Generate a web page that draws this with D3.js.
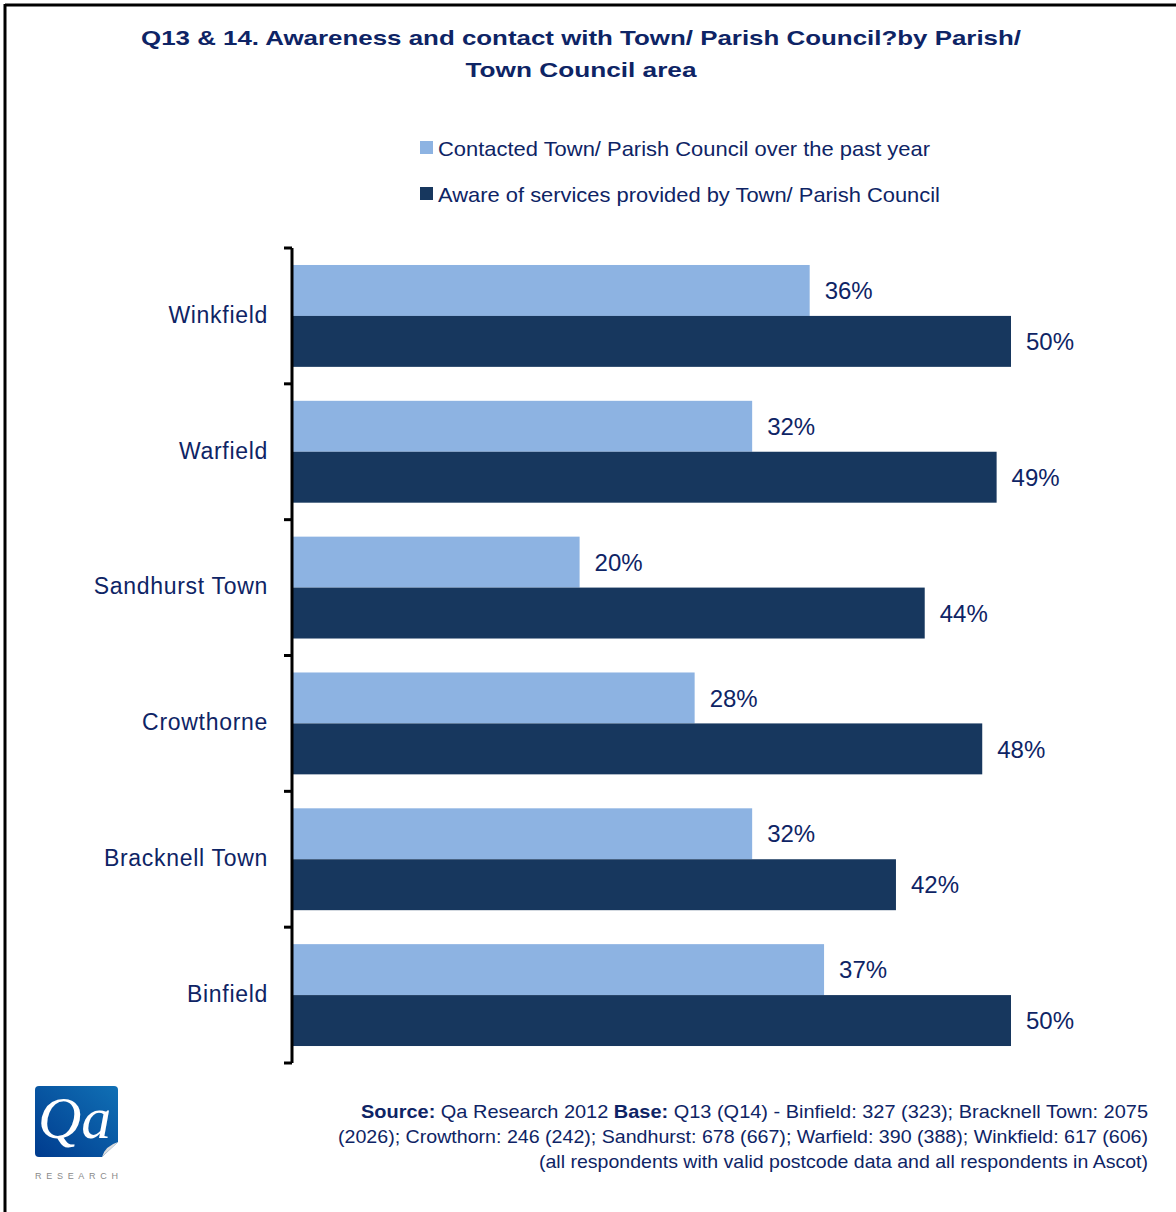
<!DOCTYPE html>
<html>
<head>
<meta charset="utf-8">
<script src="https://cdn.jsdelivr.net/npm/d3@7"></script>
<style>
  html, body { margin: 0; padding: 0; background: #fff; }
  svg { display: block; font-family: "Liberation Sans", Arial, sans-serif; }
</style>
</head>
<body>
<svg id="chart" width="1176" height="1212"></svg>
<script>
// Parish / town council areas, top to bottom
const categories = ["Winkfield", "Warfield", "Sandhurst Town", "Crowthorne", "Bracknell Town", "Binfield"];
// Percentages per series
const contacted = [36, 32, 20, 28, 32, 37];
const aware = [50, 49, 44, 48, 42, 50];
const seriesNames = [
  "Contacted Town/ Parish Council over the past year",
  "Aware of services provided by Town/ Parish Council"
];
const seriesColors = ["#8DB3E2", "#17375E"];
const titleLines = [
  "Q13 & 14. Awareness and contact with Town/ Parish Council?by Parish/",
  "Town Council area"
];
const sourceLines = [
  [["Source:", true], [" Qa Research 2012  ", false], ["Base:", true], ["  Q13 (Q14) - Binfield: 327 (323); Bracknell Town: 2075", false]],
  [["(2026); Crowthorn: 246 (242); Sandhurst: 678 (667); Warfield: 390 (388); Winkfield: 617 (606)", false]],
  [["(all respondents with valid postcode data and all respondents in Ascot)", false]]
];

const navy = "#0E2465";
const svg = d3.select("#chart");

// Frame lines (top and left)
svg.append("line").attr("x1", 5).attr("x2", 1176).attr("y1", 5).attr("y2", 5)
  .attr("stroke", "#000").attr("stroke-width", 3);
svg.append("line").attr("x1", 5).attr("x2", 5).attr("y1", 4).attr("y2", 1212)
  .attr("stroke", "#000").attr("stroke-width", 3);

// Title
const titleWidths = [880, 231];
svg.append("g").selectAll("text").data(titleLines).join("text")
  .attr("x", 581).attr("y", (d, i) => 45 + i * 32)
  .attr("text-anchor", "middle")
  .attr("font-size", 21).attr("font-weight", "bold").attr("fill", navy)
  .attr("textLength", (d, i) => titleWidths[i]).attr("lengthAdjust", "spacingAndGlyphs")
  .text(d => d);

// Legend
const legendWidths = [492, 502];
const legend = svg.append("g").selectAll("g").data(seriesNames).join("g")
  .attr("transform", (d, i) => `translate(420, ${148 + i * 46})`);
legend.append("rect").attr("x", 0).attr("y", -7).attr("width", 13).attr("height", 13)
  .attr("fill", (d, i) => seriesColors[i]);
legend.append("text").attr("x", 18).attr("y", 7.5)
  .attr("font-size", 21).attr("fill", navy)
  .attr("textLength", (d, i) => legendWidths[i]).attr("lengthAdjust", "spacingAndGlyphs")
  .text(d => d);

// Scales
const x = d3.scaleLinear().domain([0, 50]).range([292, 1011]);
const y = d3.scaleBand().domain(categories).range([248, 1063]).padding(0);
const bw = y.bandwidth();
const inner = d3.scaleBand().domain([0, 1]).range([bw * 0.125, bw * 0.875]).padding(0);

const rows = categories.map((c, i) => ({ cat: c, vals: [contacted[i], aware[i]] }));

const groups = svg.append("g").selectAll("g").data(rows).join("g")
  .attr("transform", d => `translate(0, ${y(d.cat)})`);

groups.selectAll("rect").data(d => d.vals).join("rect")
  .attr("x", x(0))
  .attr("y", (d, i) => inner(i))
  .attr("width", d => x(d) - x(0))
  .attr("height", inner.bandwidth())
  .attr("fill", (d, i) => seriesColors[i]);

groups.selectAll("text.val").data(d => d.vals).join("text")
  .attr("class", "val")
  .attr("x", d => x(d) + 15)
  .attr("y", (d, i) => inner(i) + inner.bandwidth() / 2)
  .attr("dy", "0.36em")
  .attr("font-size", 24).attr("fill", navy)
  .text(d => d + "%");

// Category axis
const axis = d3.axisLeft(y).tickSize(0).tickPadding(24);
const ax = svg.append("g").attr("transform", `translate(${x(0)}, 0)`).call(axis);
ax.select(".domain").attr("stroke", "#000").attr("stroke-width", 3)
  .attr("d", `M0,${248}V${1063}`);
ax.selectAll(".tick text").attr("font-size", 23).attr("fill", navy)
  .attr("letter-spacing", "0.7px")
  .attr("font-family", "'Liberation Sans', Arial, sans-serif").attr("dy", "0.3em");
// Tick marks at band boundaries
const bounds = categories.map(c => y(c)).concat([y.range()[1]]);
ax.append("g").selectAll("line").data(bounds).join("line")
  .attr("x1", -8).attr("x2", 0).attr("y1", d => d).attr("y2", d => d)
  .attr("stroke", "#000").attr("stroke-width", 3);

// Source note
const srcWidths = [787, 810, 609];
const src = svg.append("g").selectAll("text").data(sourceLines).join("text")
  .attr("x", 1148).attr("y", (d, i) => 1118 + i * 25)
  .attr("text-anchor", "end")
  .attr("font-size", 19).attr("fill", navy)
  .attr("textLength", (d, i) => srcWidths[i]).attr("lengthAdjust", "spacingAndGlyphs");
src.selectAll("tspan").data(d => d).join("tspan")
  .attr("font-weight", d => d[1] ? "bold" : "normal")
  .text(d => d[0]);

// Logo
const logo = svg.append("g").attr("transform", "translate(35, 1086)");
const defs = svg.append("defs");
const grad = defs.append("linearGradient").attr("id", "logoGrad")
  .attr("x1", "1").attr("y1", "0").attr("x2", "0").attr("y2", "1");
grad.append("stop").attr("offset", "0%").attr("stop-color", "#1070B5");
grad.append("stop").attr("offset", "100%").attr("stop-color", "#003B8E");
logo.append("path")
  .attr("d", "M4,0 H79 Q83,0 83,4 V56 L67,71 H4 Q0,71 0,67 V4 Q0,0 4,0 Z")
  .attr("fill", "url(#logoGrad)");
logo.append("path")
  .attr("d", "M83,56 L67,71 Q70,60 83,56 Z").attr("fill", "#dcdcdc");
logo.append("text").attr("x", 3).attr("y", 52)
  .attr("font-family", "'Liberation Serif', 'DejaVu Serif', serif")
  .attr("font-size", 60).attr("fill", "#fff")
  .text("Qa").attr("font-style", "italic");
logo.append("text").attr("x", 0).attr("y", 93)
  .attr("font-size", 9).attr("fill", "#8a8a8a")
  .attr("textLength", 83).attr("lengthAdjust", "spacing")
  .text("RESEARCH");
</script>
</body>
</html>
